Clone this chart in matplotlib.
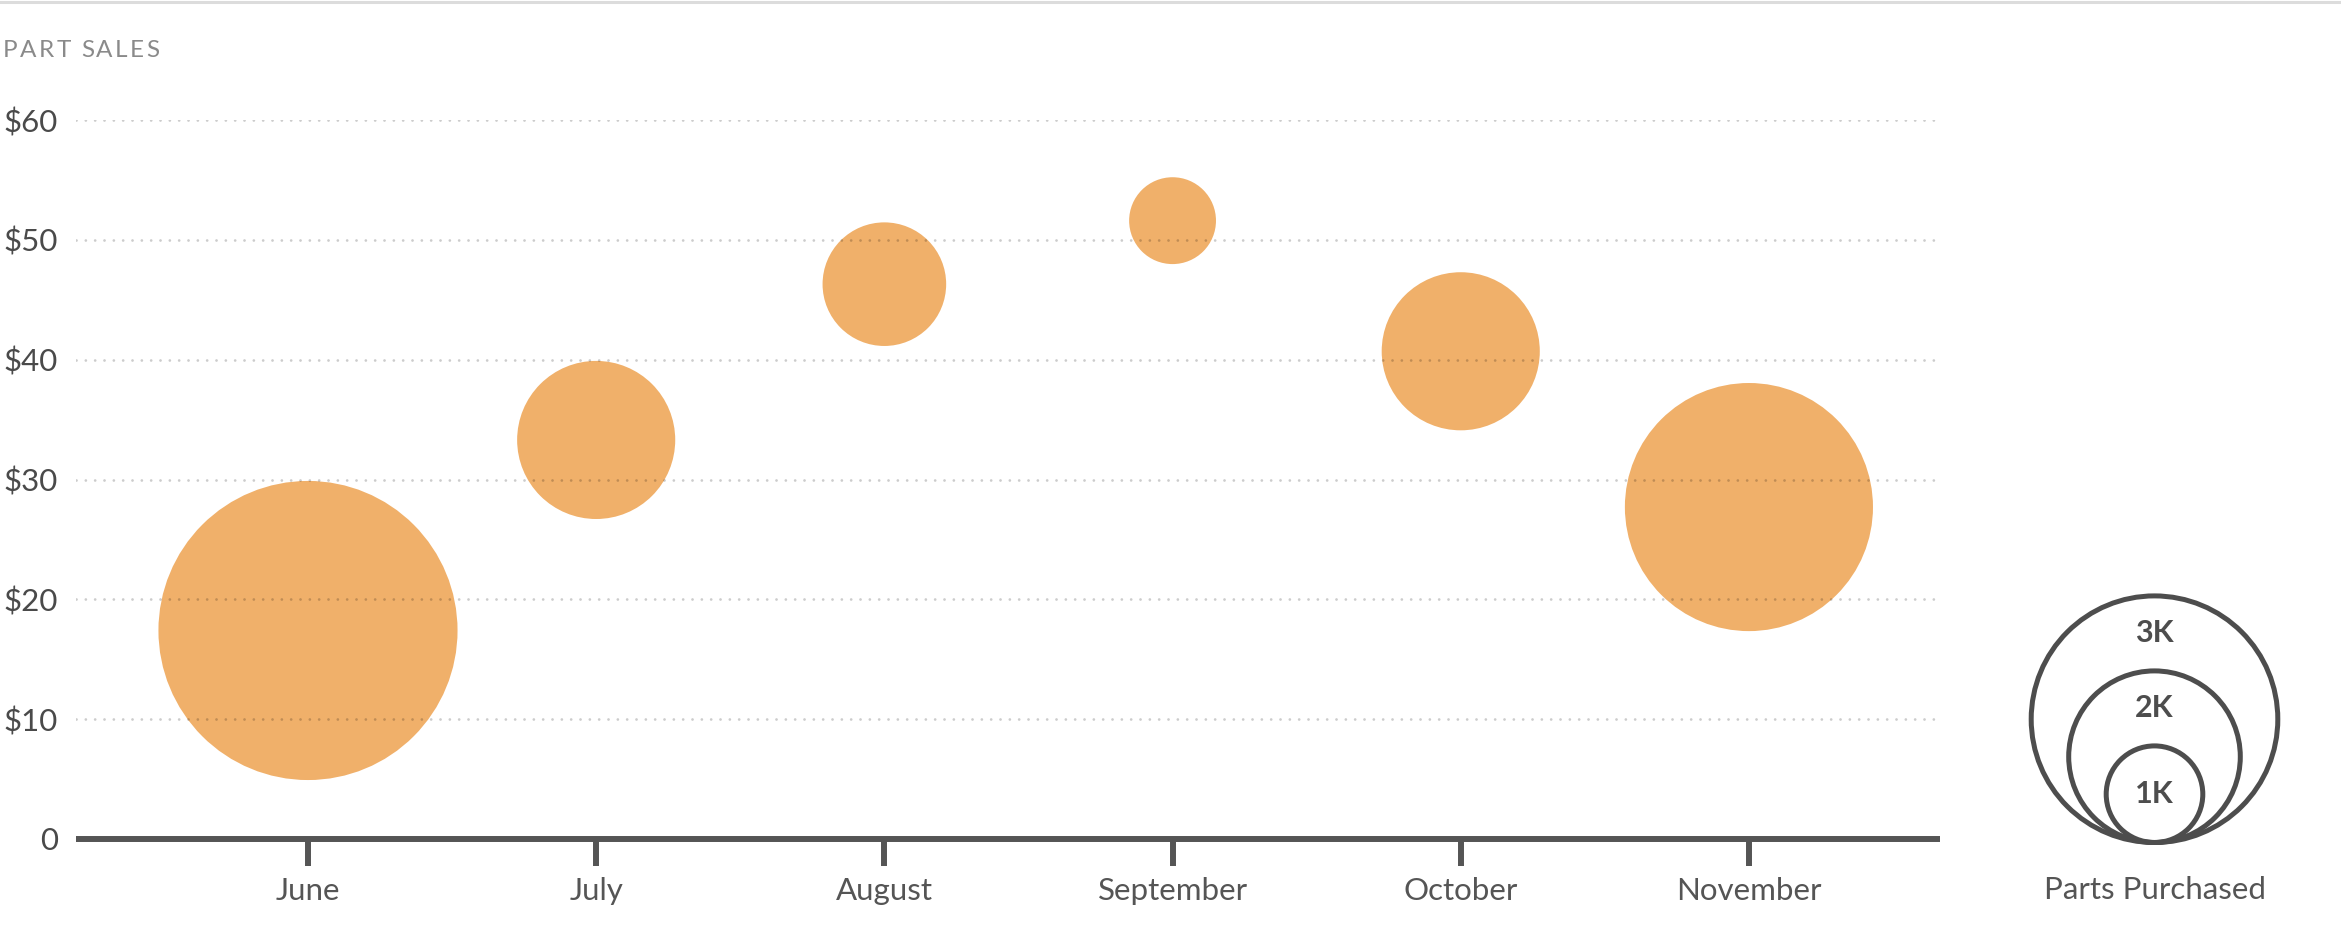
import matplotlib
matplotlib.use("Agg")
import matplotlib.pyplot as plt
from matplotlib.patches import Circle

plt.rcParams['font.family'] = ['Lato', 'DejaVu Sans']
plt.rcParams['text.parse_math'] = False

months = ['June', 'July', 'August', 'September', 'October', 'November']
avg_price = [17.4, 33.3, 46.3, 51.6, 40.7, 27.7]
parts_k = [3.7, 1.82, 1.36, 0.87, 1.82, 3.02]

y_ticks = [0, 10, 20, 30, 40, 50, 60]
y_labels = ['0', '$10', '$20', '$30', '$40', '$50', '$60']

legend_k = [1, 2, 3]
legend_labels = ['1K', '2K', '3K']

W, H, DPI = 2341, 949, 100
bubble_color = '#f0b06a'
dark = '#4d4d4d'


def radius_px(k):
    # size scale
    return 10.8 + 37.5 * k


fig = plt.figure(figsize=(W / DPI, H / DPI), dpi=DPI)

# thin rule across the top
fig.add_artist(plt.Line2D([0, 1], [1 - 1.5 / H, 1 - 1.5 / H], color='#dcdcdc', lw=2.2))

ax = fig.add_axes([76 / W, (H - 839) / H, (1940 - 76) / W, (839 - 120) / H])
x = list(range(len(months)))
sizes = [(2 * radius_px(k) * 72 / DPI) ** 2 for k in parts_k]
ax.scatter(x, avg_price, s=sizes, color=bubble_color, linewidths=0, zorder=2, clip_on=False)

for t in y_ticks[1:]:
    ax.axhline(t, color='black', alpha=0.2, lw=2.0, linestyle=(0, (0.01, 3.35)),
               dash_capstyle='round', zorder=3)

ax.set_xlim(-0.805, 5.663)
ax.set_ylim(0, 60)
ax.set_xticks(x)
ax.set_xticklabels(months)
ax.set_yticks(y_ticks)
ax.set_yticklabels(y_labels)

for s in ['top', 'right', 'left']:
    ax.spines[s].set_visible(False)
ax.spines['bottom'].set_color('#555555')
ax.spines['bottom'].set_linewidth(4.3)
ax.spines['bottom'].set_capstyle('butt')
ax.spines['bottom'].set_zorder(4)

ax.tick_params(axis='x', length=19.4, width=4.3, color='#555555', pad=8,
               labelsize=22.5, labelcolor='#555555')
ax.tick_params(axis='y', length=0, pad=13, labelsize=22.5, labelcolor='#4a4a4a')

# title with wide letter spacing
renderer = fig.canvas.get_renderer()
tx = 3
for ch in 'PART SALES':
    t = fig.text(tx / W, (H - 57) / H, ch, fontsize=17.5, color='#8a8a8a', va='baseline')
    tx += t.get_window_extent(renderer).width + 2.3 if ch != ' ' else 8

# legend in pixel units
lx0, lw_ = 1990, 351
lax = fig.add_axes([lx0 / W, 0, lw_ / W, 400 / H])
lax.set_xlim(0, lw_)
lax.set_ylim(0, 400)
lax.axis('off')
cx = 2154.5 - lx0
base = H - 842.5
prev_top = base
for k, lab in zip(legend_k, legend_labels):
    r = radius_px(k)
    lax.add_patch(Circle((cx, base + r), r, fill=False, lw=3.6, ec=dark))
    top = base + 2 * r
    lax.text(cx, (top + prev_top) / 2, lab, ha='center', va='center',
             fontsize=22, fontweight='bold', color=dark)
    prev_top = top
lax.text(cx, H - 899, 'Parts Purchased', ha='center', va='baseline',
         fontsize=22.5, color='#555555')

fig.savefig('out.png', dpi=DPI)
